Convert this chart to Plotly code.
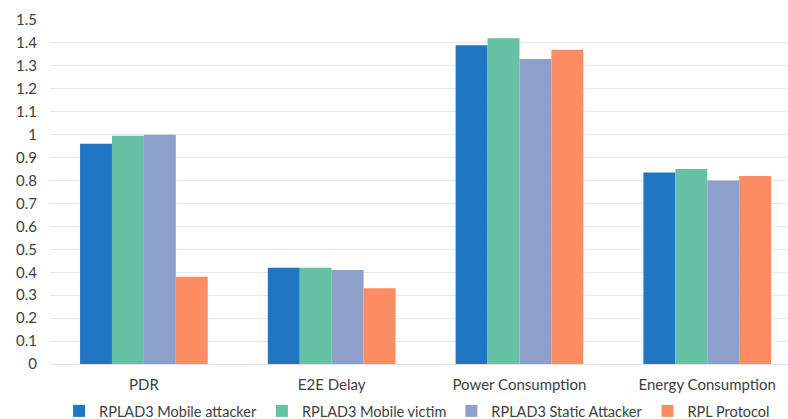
import plotly.graph_objects as go

categories = ["PDR", "E2E Delay", "Power Consumption", "Energy Consumption"]
series_names = ["RPLAD3 Mobile attacker", "RPLAD3 Mobile victim", "RPLAD3 Static Attacker", "RPL Protocol"]
mobile_attacker = [0.96, 0.42, 1.39, 0.835]
mobile_victim = [0.995, 0.42, 1.42, 0.85]
static_attacker = [1.0, 0.41, 1.33, 0.80]
rpl_protocol = [0.38, 0.33, 1.37, 0.82]
colors = ["#1F77C4", "#66C2A5", "#8DA0CB", "#FC8D62"]
y_ticks = [0, 0.1, 0.2, 0.3, 0.4, 0.5, 0.6, 0.7, 0.8, 0.9, 1, 1.1, 1.2, 1.3, 1.4, 1.5]
y_tick_text = ["0", "0.1", "0.2", "0.3", "0.4", "0.5", "0.6", "0.7", "0.8", "0.9", "1", "1.1", "1.2", "1.3", "1.4", "1.5"]

fig = go.Figure()
for name, vals, col in zip(series_names, [mobile_attacker, mobile_victim, static_attacker, rpl_protocol], colors):
    fig.add_trace(go.Bar(x=categories, y=vals, name=name, marker_color=col,
                         marker_line_width=0))

font_family = "Lato, Noto Sans, sans-serif"
fig.update_layout(
    width=788, height=419,
    margin=dict(l=50, r=0, t=20, b=55, autoexpand=False),
    paper_bgcolor="white", plot_bgcolor="white",
    barmode="group", bargap=0.32, bargroupgap=0,
    font=dict(family=font_family, size=15, color="#404040"),
    xaxis=dict(range=[-0.5, 3.43], showgrid=False, showline=False, ticks="",
               automargin=False, ticklabelstandoff=10,
               tickfont=dict(size=15, color="#404040")),
    yaxis=dict(range=[0, 1.5], tickvals=y_ticks, ticktext=y_tick_text,
               automargin=False, ticklabelstandoff=12,
               showgrid=True, gridcolor="#E8E8E8", gridwidth=1,
               zeroline=True, zerolinecolor="#E3E3E3", zerolinewidth=1,
               showline=False, ticks="", tickfont=dict(size=15, color="#404040")),
    legend=dict(orientation="h", xref="container", x=0.075, xanchor="left",
                yref="paper", y=-0.09, yanchor="top",
                font=dict(size=14.5, color="#404040"), itemwidth=30,
                traceorder="normal"),
)
fig.write_html("out.html", config={"displayModeBar": False},
               post_script="document.body.style.margin='0';")
